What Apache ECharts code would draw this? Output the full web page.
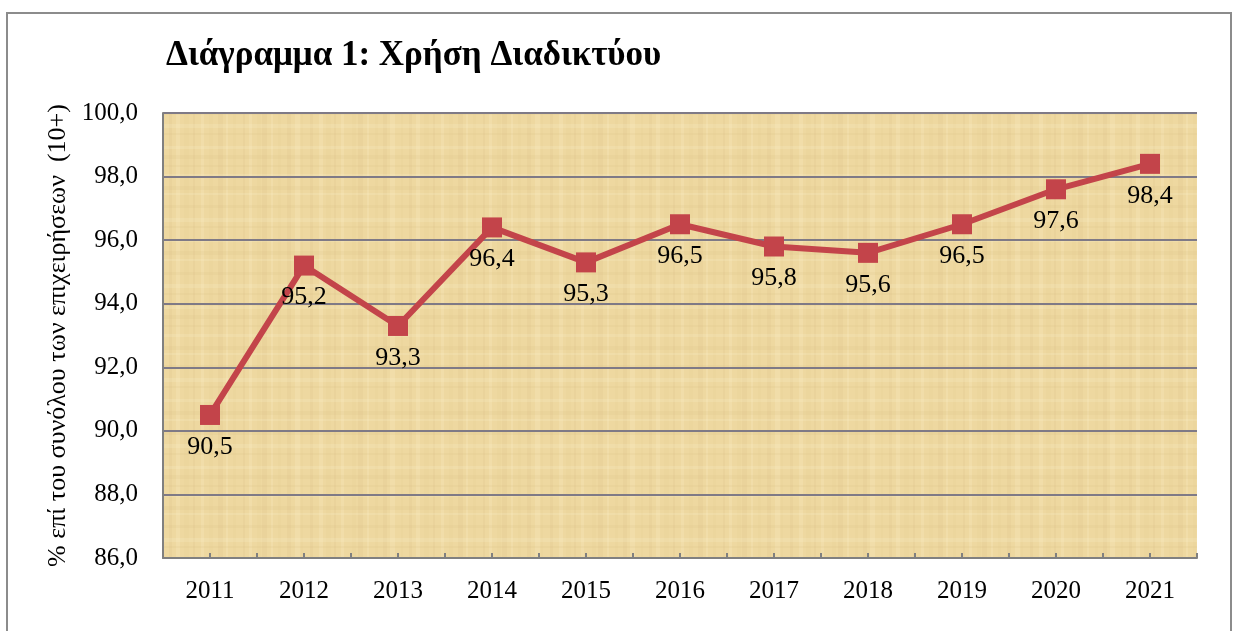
<!DOCTYPE html>
<html>
<head>
<meta charset="utf-8">
<script src="https://cdn.jsdelivr.net/npm/echarts@6/dist/echarts.min.js"></script>
<style>
html,body{margin:0;padding:0;background:#fff;}
#chart{width:1238px;height:631px;}
</style>
</head>
<body>
<div id="chart"></div>
<script>
const titleText = 'Διάγραμμα 1: Χρήση Διαδικτύου';
const yAxisName = '% επί του συνόλου των επιχειρήσεων  (10+)';
const years = ['2011','2012','2013','2014','2015','2016','2017','2018','2019','2020','2021'];
const internetUse = [90.5, 95.2, 93.3, 96.4, 95.3, 96.5, 95.8, 95.6, 96.5, 97.6, 98.4];
const yMin = 86, yMax = 100, yStep = 2;

// papyrus-like texture (deterministic, subtle stripes)
function makeTexture() {
  const c = document.createElement('canvas');
  c.width = 240; c.height = 160;
  const g = c.getContext('2d');
  g.fillStyle = '#EED8A0';
  g.fillRect(0, 0, c.width, c.height);
  const vx = [3,9,17,22,31,38,47,55,61,70,79,86,94,101,112,118,127,135,143,150,161,169,176,184,193,201,209,218,226,233];
  vx.forEach((x, i) => {
    g.fillStyle = (i % 3 === 0) ? 'rgba(205,178,120,0.12)' : (i % 3 === 1 ? 'rgba(255,244,210,0.18)' : 'rgba(215,188,130,0.08)');
    g.fillRect(x, 0, 2 + (i % 4), c.height);
  });
  const hy = [5,14,26,33,45,58,66,79,91,99,112,124,133,146,155];
  hy.forEach((y, i) => {
    g.fillStyle = (i % 2 === 0) ? 'rgba(205,178,120,0.10)' : 'rgba(255,246,220,0.16)';
    g.fillRect(0, y, c.width, 2 + (i % 3));
  });
  return c;
}

const chart = echarts.init(document.getElementById('chart'), null, {renderer: 'canvas'});
const serif = '"Liberation Serif", "DejaVu Serif", serif';
const halfCats = [];
for (let i = 0; i < years.length * 2; i++) halfCats.push(String(i));

chart.setOption({
  backgroundColor: '#ffffff',
  animation: false,
  title: {
    text: titleText,
    left: 161, top: 33,
    textStyle: {fontFamily: serif, fontWeight: 'bold', fontSize: 35, color: '#000'}
  },
  graphic: [{
    type: 'rect', z: -1,
    shape: {x: 7, y: 13, width: 1224, height: 640},
    style: {fill: 'none', stroke: '#8c8c8c', lineWidth: 2}
  }],
  grid: {
    left: 163, right: 41, top: 113, bottom: 73,
    show: true, borderWidth: 0,
    backgroundColor: {image: makeTexture(), repeat: 'repeat'}
  },
  xAxis: [{
    type: 'category', data: years, boundaryGap: true,
    axisLine: {show: true, lineStyle: {color: '#808080', width: 2}},
    axisTick: {show: false},
    axisLabel: {fontFamily: serif, fontSize: 25, color: '#000', margin: 21},
    splitLine: {show: false}
  }, {
    type: 'category', data: halfCats, boundaryGap: true, position: 'bottom',
    axisLine: {show: false},
    axisTick: {show: true, inside: true, length: 5, lineStyle: {color: '#808080', width: 2}},
    axisLabel: {show: false},
    splitLine: {show: false}
  }],
  yAxis: {
    type: 'value', min: yMin, max: yMax, interval: yStep,
    name: yAxisName, nameLocation: 'middle', nameGap: 90, nameRotate: 90,
    nameTextStyle: {fontFamily: serif, fontSize: 26, color: '#000'},
    axisLine: {show: true, lineStyle: {color: '#808080', width: 2}},
    axisTick: {show: false},
    axisLabel: {fontFamily: serif, fontSize: 25, color: '#000', margin: 25,
      formatter: v => v.toFixed(1).replace('.', ',')},
    splitLine: {show: true, lineStyle: {color: '#7f7a86', width: 2}}
  },
  series: [{
    type: 'line', data: internetUse, xAxisIndex: 0,
    symbol: 'rect', symbolSize: 20,
    lineStyle: {color: '#C3444A', width: 6},
    itemStyle: {color: '#C3444A'},
    label: {
      show: true, position: 'bottom', distance: 9,
      fontFamily: serif, fontSize: 26, color: '#000',
      formatter: p => p.value.toFixed(1).replace('.', ',')
    }
  }]
});
</script>
</body>
</html>
